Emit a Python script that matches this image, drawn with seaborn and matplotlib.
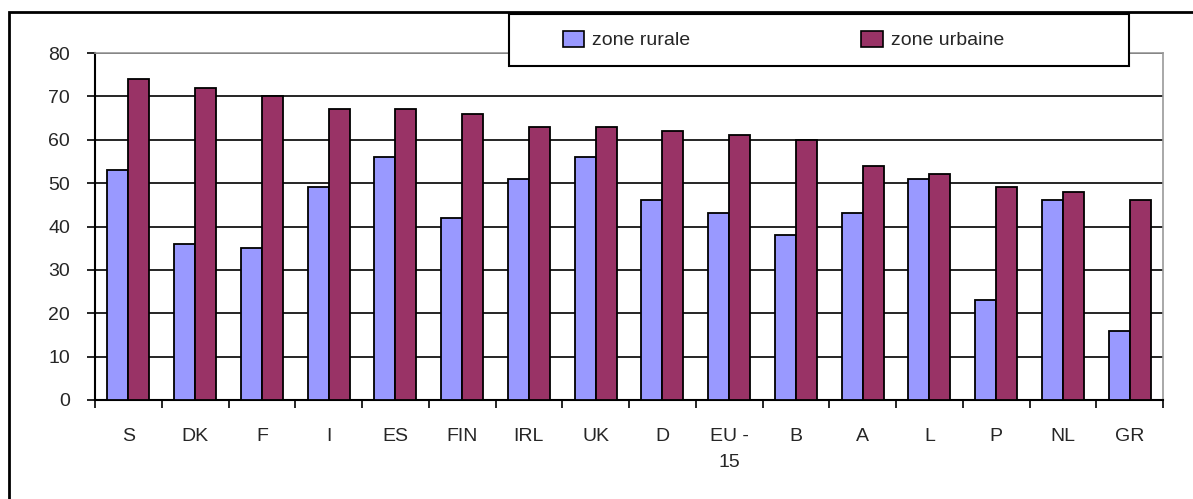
import pandas as pd
import matplotlib.pyplot as plt
import seaborn as sns
from matplotlib.patches import Patch, Rectangle

countries = ["S", "DK", "F", "I", "ES", "FIN", "IRL", "UK", "D", "EU -\n15",
             "B", "A", "L", "P", "NL", "GR"]
rurale = [53, 36, 35, 49, 56, 42, 51, 56, 46, 43, 38, 43, 51, 23, 46, 16]
urbaine = [74, 72, 70, 67, 67, 66, 63, 63, 62, 61, 60, 54, 52, 49, 48, 46]
series = ["zone rurale", "zone urbaine"]
colors = {"zone rurale": "#9999FF", "zone urbaine": "#993366"}

df = pd.DataFrame({
    "pays": countries * 2,
    "zone": [series[0]] * len(countries) + [series[1]] * len(countries),
    "valeur": rurale + urbaine,
})

sns.set_style("white")
plt.rcParams['font.family'] = ['Liberation Sans', 'DejaVu Sans']

fig = plt.figure(figsize=(11.93, 4.99), dpi=100)
ax = fig.add_axes([95 / 1193, 99 / 499, 1068 / 1193, 347 / 499])

sns.barplot(data=df, x="pays", y="valeur", hue="zone", palette=colors,
            saturation=1, width=0.63, edgecolor="black", linewidth=1.3,
            ax=ax, zorder=3)
ax.get_legend().remove()

ax.set_ylim(0, 80)
ax.set_xlim(-0.5, len(countries) - 0.5)
ax.set_yticks(range(0, 81, 10))
ax.yaxis.grid(True, color="black", linewidth=1.2, zorder=0)
ax.set_axisbelow(True)
ax.set_xlabel("")
ax.set_ylabel("")

ax.tick_params(axis="y", direction="out", length=6, width=1.2, color="black",
               labelsize=14, pad=12, left=True)
ax.set_xticks([i - 0.5 for i in range(len(countries) + 1)], minor=True)
ax.tick_params(axis="x", which="minor", direction="out", length=6, width=1.2,
               color="black", bottom=True)
ax.tick_params(axis="x", which="major", length=0, labelsize=14, pad=20)
ax.set_xticklabels(countries, va="top", linespacing=1.7)

for side in ["left", "bottom"]:
    ax.spines[side].set_color("black")
    ax.spines[side].set_linewidth(1.5)
for side in ["top", "right"]:
    ax.spines[side].set_color("#999999")
    ax.spines[side].set_linewidth(1.2)

# outer chart frame
fig.patches.append(Rectangle((9 / 1193, -0.1), 1.2, 1.1 - 12 / 499,
                             transform=fig.transFigure, fill=False,
                             edgecolor="black", linewidth=2, zorder=0))

# legend box
fig.patches.append(Rectangle((509 / 1193, 433 / 499), 620 / 1193, 52 / 499,
                             transform=fig.transFigure, facecolor="white",
                             edgecolor="black", linewidth=1.5, zorder=4))

handles = [Patch(facecolor=colors[s], edgecolor="black", linewidth=1.2) for s in series]
leg = fig.legend(handles, series, loc="center left", ncol=2,
                 bbox_to_anchor=(563 / 1193, 459 / 499),
                 fontsize=14, frameon=False, handlelength=1.1, handleheight=0.9,
                 handletextpad=0.4, columnspacing=8.8, borderaxespad=0,
                 borderpad=0)
leg.set_zorder(5)

fig.savefig("out.png", dpi=100)
